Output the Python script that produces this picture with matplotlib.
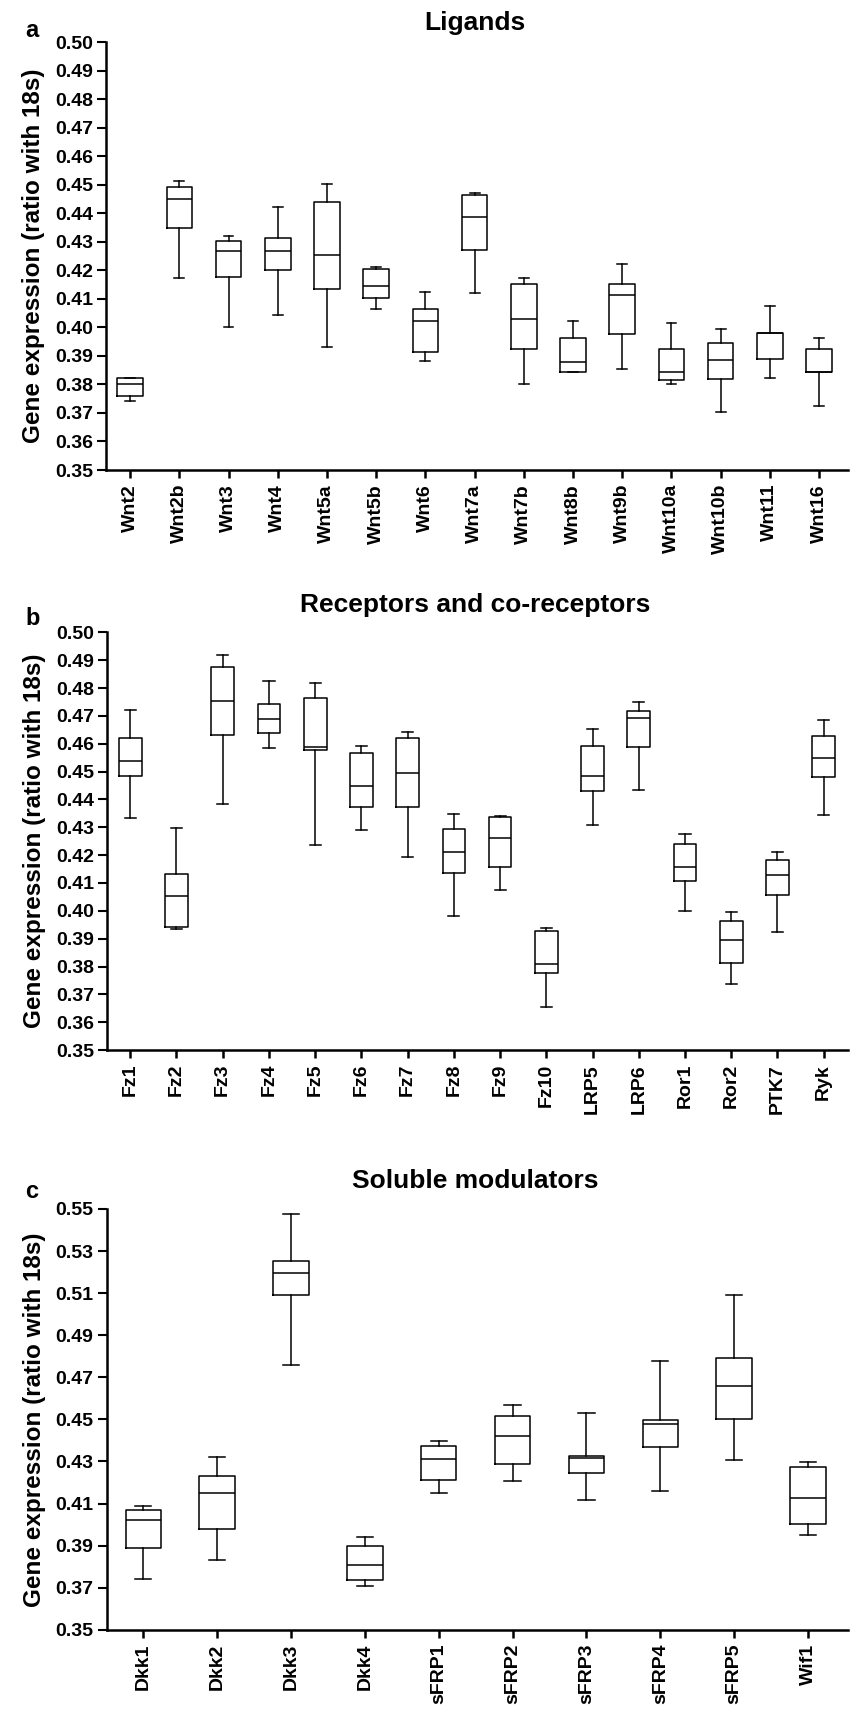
import matplotlib
matplotlib.use("Agg")
import matplotlib.pyplot as plt

plt.rcParams["font.family"] = ["Liberation Sans", "DejaVu Sans"]
plt.rcParams["font.weight"] = "bold"

# (a) ligands
lig_names = ["Wnt2", "Wnt2b", "Wnt3", "Wnt4", "Wnt5a", "Wnt5b", "Wnt6", "Wnt7a",
             "Wnt7b", "Wnt8b", "Wnt9b", "Wnt10a", "Wnt10b", "Wnt11", "Wnt16"]
lig_lo = [0.3743, 0.4175, 0.4003, 0.4045, 0.3933, 0.4063, 0.3884, 0.4122,
          0.3802, 0.3844, 0.3854, 0.3803, 0.3704, 0.3824, 0.3725]
lig_q1 = [0.3758, 0.4348, 0.4178, 0.4201, 0.4135, 0.4104, 0.3914, 0.4273,
          0.3926, 0.3844, 0.3977, 0.3815, 0.3820, 0.3889, 0.3844]
lig_med = [0.3802, 0.4452, 0.4268, 0.4268, 0.4254, 0.4145, 0.4024, 0.4388,
           0.4029, 0.3879, 0.4113, 0.3844, 0.3887, 0.3980, 0.3844]
lig_q3 = [0.3824, 0.4493, 0.4302, 0.4315, 0.4439, 0.4204, 0.4063, 0.4466,
          0.4152, 0.3964, 0.4152, 0.3923, 0.3946, 0.3982, 0.3923]
lig_hi = [0.3824, 0.4514, 0.4322, 0.4422, 0.4503, 0.4212, 0.4124, 0.4473,
          0.4174, 0.4023, 0.4224, 0.4015, 0.3994, 0.4076, 0.3964]

# (b) receptors and co-receptors
rec_names = ["Fz1", "Fz2", "Fz3", "Fz4", "Fz5", "Fz6", "Fz7", "Fz8", "Fz9", "Fz10",
             "LRP5", "LRP6", "Ror1", "Ror2", "PTK7", "Ryk"]
rec_lo = [0.4334, 0.3936, 0.4384, 0.4585, 0.4236, 0.4292, 0.4195, 0.3983,
          0.4073, 0.3653, 0.4310, 0.4433, 0.3999, 0.3737, 0.3924, 0.4345]
rec_q1 = [0.4483, 0.3941, 0.4631, 0.4640, 0.4576, 0.4373, 0.4373, 0.4136,
          0.4157, 0.3776, 0.4430, 0.4588, 0.4108, 0.3814, 0.4057, 0.4481]
rec_med = [0.4538, 0.4055, 0.4755, 0.4690, 0.4587, 0.4448, 0.4494, 0.4213,
           0.4263, 0.3809, 0.4485, 0.4691, 0.4157, 0.3894, 0.4129, 0.4550]
rec_q3 = [0.4622, 0.4134, 0.4874, 0.4743, 0.4765, 0.4566, 0.4622, 0.4294,
          0.4337, 0.3926, 0.4591, 0.4719, 0.4240, 0.3964, 0.4181, 0.4627]
rec_hi = [0.4721, 0.4299, 0.4919, 0.4827, 0.4820, 0.4592, 0.4644, 0.4348,
          0.4342, 0.3938, 0.4652, 0.4749, 0.4277, 0.3994, 0.4213, 0.4686]

# (c) soluble modulators
mod_names = ["Dkk1", "Dkk2", "Dkk3", "Dkk4", "sFRP1", "sFRP2", "sFRP3", "sFRP4",
             "sFRP5", "Wif1"]
mod_lo = [0.3741, 0.3830, 0.4758, 0.3709, 0.4150, 0.4207, 0.4116, 0.4158, 0.4308, 0.3948]
mod_q1 = [0.3888, 0.3977, 0.5090, 0.3735, 0.4210, 0.4288, 0.4245, 0.4368, 0.4502, 0.4002]
mod_med = [0.4020, 0.4150, 0.5194, 0.3807, 0.4310, 0.4422, 0.4318, 0.4478, 0.4660, 0.4128]
mod_q3 = [0.4067, 0.4232, 0.5253, 0.3899, 0.4373, 0.4517, 0.4327, 0.4498, 0.4793, 0.4275]
mod_hi = [0.4088, 0.4319, 0.5476, 0.3939, 0.4396, 0.4570, 0.4529, 0.4779, 0.5093, 0.4299]

y_ticks_ab = [0.35 + 0.01 * i for i in range(16)]
y_ticks_c = [0.35 + 0.02 * i for i in range(11)]


def draw_panel(ax, names, lo, q1, med, q3, hi, title, letter, yticks, ylim, xlim,
               box_w, cap_w, title_y, letter_y):
    stats = []
    for n, a, b, c, d, e in zip(names, lo, q1, med, q3, hi):
        stats.append({"label": n, "whislo": a, "q1": b, "med": c, "q3": d,
                      "whishi": e, "fliers": []})
    pos = list(range(1, len(names) + 1))
    line = {"color": "black", "linewidth": 1.1}
    ax.bxp(stats, positions=pos, widths=box_w, capwidths=cap_w,
           showfliers=False, boxprops=line, medianprops=line,
           whiskerprops=line, capprops=line)
    ax.set_xlim(*xlim)
    ax.set_ylim(*ylim)
    ax.set_yticks(yticks)
    ax.set_yticklabels([f"{t:.2f}" for t in yticks], fontsize=14, fontweight="bold")
    ax.set_xticks(pos)
    ax.set_xticklabels(names, rotation=90, fontsize=14, fontweight="bold")
    ax.spines["top"].set_visible(False)
    ax.spines["right"].set_visible(False)
    ax.spines["left"].set_linewidth(1.8)
    ax.spines["bottom"].set_linewidth(1.8)
    ax.tick_params(axis="y", length=6.5, width=1.5, pad=3)
    ax.tick_params(axis="x", length=6, width=1.8, pad=4)
    ax.set_ylabel("Gene expression (ratio with 18s)", fontsize=17.5,
                  fontweight="bold", labelpad=7)
    fig.text(0.558, title_y, title, ha="center", va="center", fontsize=19,
             fontweight="bold")
    fig.text(25 / 851, letter_y, letter, ha="left", va="baseline",
             fontsize=17, fontweight="bold")


fig = plt.figure(figsize=(8.51, 17.11), dpi=100)

ax_a = fig.add_axes([0.1246, 0.7253, 0.872, 0.2500])
draw_panel(ax_a, lig_names, lig_lo, lig_q1, lig_med, lig_q3, lig_hi,
           "Ligands", "a", y_ticks_ab, (0.35, 0.50), (0.51, 15.59), 0.52, 0.2,
           1 - 23 / 1711, 1 - 37 / 1711)

ax_b = fig.add_axes([0.1257, 0.3863, 0.871, 0.2441])
draw_panel(ax_b, rec_names, rec_lo, rec_q1, rec_med, rec_q3, rec_hi,
           "Receptors and co-receptors", "b", y_ticks_ab, (0.35, 0.50),
           (0.496, 16.53), 0.49, 0.24, 1 - 605 / 1711, 1 - 625 / 1711)

ax_c = fig.add_axes([0.1254, 0.0475, 0.871, 0.2459])
draw_panel(ax_c, mod_names, mod_lo, mod_q1, mod_med, mod_q3, mod_hi,
           "Soluble modulators", "c", y_ticks_c, (0.35, 0.55), (0.505, 10.54),
           0.48, 0.22, 1 - 1181 / 1711, 1 - 1198 / 1711)

fig.savefig("out.png", dpi=100)
